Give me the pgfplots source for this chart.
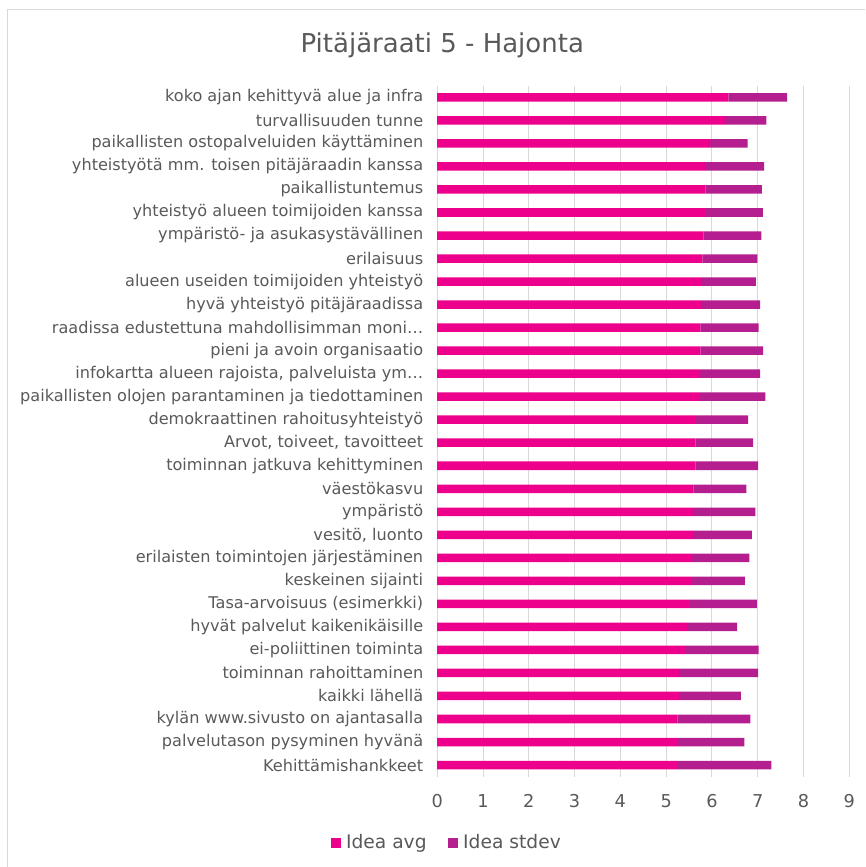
\documentclass[border=0pt]{standalone}
\usepackage{pgfplots}
\pgfplotsset{compat=1.18}
\usepackage{pgfplotstable}
\usepackage{fontspec}
\setmainfont{DejaVu Sans}

\definecolor{avgc}{HTML}{EC008C}
\definecolor{sdc}{HTML}{B41E8E}
\definecolor{txt}{HTML}{595959}
\definecolor{grd}{HTML}{D9D9D9}

% idx: row from the top, avg = Idea avg, sd = Idea stdev
\pgfplotstableread{
idx avg  sd
0   6.36 1.28
1   6.29 0.90
2   5.96 0.82
3   5.87 1.27
4   5.86 1.23
5   5.85 1.26
6   5.82 1.26
7   5.79 1.20
8   5.76 1.20
9   5.76 1.29
10  5.75 1.27
11  5.75 1.37
12  5.74 1.31
13  5.72 1.45
14  5.65 1.14
15  5.64 1.26
16  5.64 1.37
17  5.60 1.15
18  5.59 1.36
19  5.59 1.28
20  5.57 1.25
21  5.56 1.16
22  5.52 1.46
23  5.46 1.09
24  5.41 1.61
25  5.30 1.71
26  5.28 1.35
27  5.25 1.59
28  5.24 1.47
29  5.24 2.06
}\hajonta

\begin{document}
\begin{tikzpicture}
\begin{axis}[
    at={(0pt,0pt)}, anchor=south west,
    scale only axis,
    width=309.2pt, height=518.3pt,
    xbar stacked,
    bar width=6.4pt,
    xmin=0, xmax=9,
    xtick={0,1,...,9},
    ymin=-0.5, ymax=29.5,
    y dir=reverse,
    ytick={0,1,...,29},
    yticklabels={
        koko ajan kehittyvä alue ja infra,
        turvallisuuden tunne,
        paikallisten ostopalveluiden käyttäminen,
        yhteistyötä mm. toisen pitäjäraadin kanssa,
        paikallistuntemus,
        yhteistyö alueen toimijoiden kanssa,
        ympäristö- ja asukasystävällinen,
        erilaisuus,
        alueen useiden toimijoiden yhteistyö,
        hyvä yhteistyö pitäjäraadissa,
        raadissa edustettuna mahdollisimman moni…,
        pieni ja avoin organisaatio,
        {infokartta alueen rajoista, palveluista ym…},
        paikallisten olojen parantaminen ja tiedottaminen,
        demokraattinen rahoitusyhteistyö,
        {Arvot, toiveet, tavoitteet},
        toiminnan jatkuva kehittyminen,
        väestökasvu,
        ympäristö,
        {vesitö, luonto},
        erilaisten toimintojen järjestäminen,
        keskeinen sijainti,
        Tasa-arvoisuus (esimerkki),
        hyvät palvelut kaikenikäisille,
        ei-poliittinen toiminta,
        toiminnan rahoittaminen,
        kaikki lähellä,
        kylän www.sivusto on ajantasalla,
        palvelutason pysyminen hyvänä,
        Kehittämishankkeet},
    axis line style={draw=none},
    major tick length=0pt,
    xmajorgrids=true,
    grid style={grd, line width=0.75pt},
    /pgf/number format/assume math mode=true,
    tick label style={text=txt, font=\fontsize{13.3}{15}\selectfont},
    yticklabel style={font=\fontsize{12.1}{14}\selectfont, xshift=-7pt},
    xticklabel style={yshift=-10pt},
    legend columns=2,
    legend style={at={(0.024,-0.0955)}, anchor=center, draw=none, fill=none,
        text=txt, font=\fontsize{14}{16}\selectfont,
        /tikz/every odd column/.append style={column sep=0pt},
        /tikz/every even column/.append style={column sep=14pt}},
    legend image code/.code={%
        \fill[#1] (0pt,-3.75pt) rectangle (7.5pt,3.75pt);
        \path (0pt,0pt) -- (9.5pt,0pt);},
]
\addplot[fill=avgc, draw=none] table[x=avg, y=idx] {\hajonta};
\addplot[fill=sdc, draw=none] table[x=sd, y=idx] {\hajonta};
\legend{Idea avg, Idea stdev}
\end{axis}
\begin{scope}[x=0.75pt, y=0.75pt]
\path (-437.5,-90) rectangle (427.5,777);
\draw[grd, line width=0.75pt] (-429.5,-90) -- (-429.5,767) -- (427.5,767);
\node[text=txt, font=\fontsize{19.5}{22}\selectfont] at (5,732) {Pitäjäraati 5 - Hajonta};
\end{scope}
\end{tikzpicture}
\end{document}
